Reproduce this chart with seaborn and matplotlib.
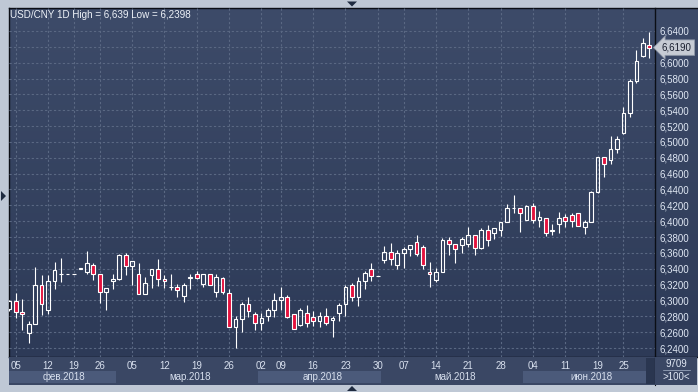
import numpy as np
import matplotlib
matplotlib.use("Agg")
import matplotlib.pyplot as plt
import matplotlib.transforms as mtransforms
from matplotlib.patches import Polygon, Rectangle
from matplotlib.colors import LinearSegmentedColormap
from matplotlib.ticker import FuncFormatter
import seaborn as sns

# daily USD/CNY candles, 2 Feb - 29 Jun 2018
opens = [6.2890, 6.2987, 6.2859, 6.2586, 6.2701, 6.3200, 6.2880, 6.3251, 6.3332, 6.3340,
         6.3340, 6.3391, 6.3353, 6.3443, 6.3328, 6.3106, 6.3251, 6.3276, 6.3570, 6.3430,
         6.3340, 6.3085, 6.3315, 6.3391, 6.3276, 6.3172, 6.3174, 6.3059, 6.3287, 6.3340,
         6.3213, 6.3328, 6.3110, 6.3289, 6.3098, 6.2659, 6.2769, 6.2950, 6.2823, 6.2718,
         6.2806, 6.2878, 6.3000, 6.3038, 6.2823, 6.2693, 6.2836, 6.2794, 6.2747, 6.2798,
         6.2756, 6.2836, 6.2950, 6.3189, 6.3038, 6.3240, 6.3392, 6.3303, 6.3505, 6.3606,
         6.3442, 6.3594, 6.3644, 6.3733, 6.3669, 6.3354, 6.3261, 6.3354, 6.3758, 6.3707,
         6.3695, 6.3707, 6.3821, 6.3657, 6.3884, 6.3846, 6.3884, 6.3985, 6.4164, 6.4162,
         6.4011, 6.4187, 6.4011, 6.4036, 6.3882, 6.3960, 6.4048, 6.4074, 6.4099, 6.3922,
         6.3985, 6.4371, 6.4809, 6.4771, 6.4905, 6.5108, 6.5360, 6.5764, 6.6080, 6.6219]
highs = [6.3010, 6.3093, 6.3021, 6.2744, 6.3417, 6.3319, 6.3319, 6.3481, 6.3532, 6.3340,
         6.3340, 6.3404, 6.3622, 6.3468, 6.3328, 6.3161, 6.3340, 6.3583, 6.3596, 6.3494,
         6.3468, 6.3302, 6.3391, 6.3519, 6.3315, 6.3328, 6.3213, 6.3225, 6.3328, 6.3366,
         6.3340, 6.3340, 6.3340, 6.3302, 6.3149, 6.2810, 6.2975, 6.3050, 6.2849, 6.2836,
         6.2903, 6.3093, 6.3168, 6.3063, 6.2823, 6.2899, 6.2937, 6.2861, 6.2849, 6.2899,
         6.2798, 6.2962, 6.3189, 6.3215, 6.3291, 6.3366, 6.3467, 6.3303, 6.3682, 6.3720,
         6.3636, 6.3669, 6.3695, 6.3821, 6.3695, 6.3488, 6.3404, 6.3783, 6.3796, 6.3707,
         6.3796, 6.3922, 6.3821, 6.3909, 6.3947, 6.3909, 6.3985, 6.4213, 6.4326, 6.4162,
         6.4200, 6.4225, 6.4124, 6.4036, 6.3960, 6.4111, 6.4086, 6.4099, 6.4099, 6.4010,
         6.4377, 6.4809, 6.4809, 6.5074, 6.5074, 6.5436, 6.5790, 6.6156, 6.6307, 6.6390]
lows = [6.2870, 6.2774, 6.2625, 6.2467, 6.2701, 6.2821, 6.2829, 6.3149, 6.3234, 6.3340,
        6.3340, 6.3391, 6.3340, 6.3264, 6.2965, 6.2885, 6.3144, 6.3264, 6.3323, 6.3196,
        6.3085, 6.3085, 6.3161, 6.3187, 6.3157, 6.3127, 6.3046, 6.2978, 6.3144, 6.3276,
        6.3174, 6.3200, 6.3042, 6.3085, 6.2659, 6.2398, 6.2600, 6.2794, 6.2625, 6.2625,
        6.2739, 6.2794, 6.2886, 6.2781, 6.2646, 6.2676, 6.2667, 6.2684, 6.2667, 6.2693,
        6.2541, 6.2743, 6.2802, 6.2996, 6.2933, 6.3147, 6.3248, 6.3303, 6.3467, 6.3442,
        6.3392, 6.3404, 6.3556, 6.3556, 6.3392, 6.3173, 6.3236, 6.3354, 6.3568, 6.3476,
        6.3602, 6.3669, 6.3568, 6.3644, 6.3682, 6.3771, 6.3808, 6.3985, 6.4099, 6.3862,
        6.4011, 6.3973, 6.3922, 6.3808, 6.3821, 6.3846, 6.3922, 6.3922, 6.3935, 6.3834,
        6.3985, 6.4350, 6.4560, 6.4716, 6.4855, 6.5095, 6.5318, 6.5739, 6.6067, 6.6055]
closes = [6.2987, 6.2859, 6.2833, 6.2701, 6.3200, 6.2957, 6.3251, 6.3379, 6.3338, 6.3340,
          6.3340, 6.3404, 6.3468, 6.3328, 6.3106, 6.3161, 6.3276, 6.3570, 6.3430, 6.3494,
          6.3085, 6.3225, 6.3391, 6.3276, 6.3251, 6.3176, 6.3136, 6.3200, 6.3291, 6.3289,
          6.3328, 6.3200, 6.3302, 6.3110, 6.2659, 6.2765, 6.2950, 6.2870, 6.2718, 6.2785,
          6.2878, 6.3000, 6.3038, 6.2794, 6.2646, 6.2874, 6.2722, 6.2747, 6.2798, 6.2722,
          6.2773, 6.2937, 6.3164, 6.3038, 6.3240, 6.3341, 6.3303, 6.3303, 6.3606, 6.3518,
          6.3594, 6.3644, 6.3695, 6.3581, 6.3442, 6.3328, 6.3354, 6.3758, 6.3707, 6.3644,
          6.3771, 6.3821, 6.3657, 6.3884, 6.3758, 6.3909, 6.3985, 6.4162, 6.4168, 6.4099,
          6.4187, 6.4011, 6.4048, 6.3846, 6.3886, 6.4036, 6.3998, 6.3998, 6.3935, 6.3985,
          6.4364, 6.4809, 6.4716, 6.4905, 6.5036, 6.5360, 6.5764, 6.6017, 6.6244, 6.6190]

tick_pos = [1, 6, 10, 14, 19, 24, 29, 34, 39, 42, 47, 52, 57, 61, 66, 71, 76, 81, 86, 91, 95]
tick_lbl = ['05', '12', '19', '26', '05', '12', '19', '26', '02', '09', '16',
            '23', '30', '07', '14', '21', '28', '04', '11', '19', '25']
month_lbl = ['фев.2018', 'мар.2018', 'апр.2018', 'май.2018', 'июн.2018']
month_first = [0, 17, 39, 58, 80]
month_last = [16, 38, 57, 79, 99]

title = 'USD/CNY 1D High = 6,639 Low = 6,2398'
volume_txt = '9709'
zoom_txt = '>100<'

sns.set_style('dark')
plt.rcParams['font.family'] = ['Liberation Sans', 'DejaVu Sans']

W, H = 698, 392
fig = plt.figure(figsize=(W / 100, H / 100), dpi=100, facecolor='#bfc8d5')


def fx(px):
    return px / W


def fy(py):
    return 1 - py / H


L, R, T, B, S = 8.5, 655, 8.3, 357.3, 385

# gradient background behind plot and price scale
bg = fig.add_axes([fx(L), fy(B), fx(697) - fx(L), fy(T) - fy(B)])
cmap = LinearSegmentedColormap.from_list('bg', ['#3d4b69', '#2d3a57'])
bg.imshow(np.linspace(0, 1, 256).reshape(-1, 1), aspect='auto', cmap=cmap,
          extent=[0, 1, 0, 1])
bg.set_xticks([])
bg.set_yticks([])
for s in bg.spines.values():
    s.set_color('#0b0e15')
    s.set_linewidth(1)
bg.spines['right'].set_visible(False)

ax = fig.add_axes([fx(L), fy(B), fx(R) - fx(L), fy(T) - fy(B)], facecolor='none')

o = np.array(opens)
h = np.array(highs)
lo = np.array(lows)
c = np.array(closes)
x = np.arange(len(o))
top = np.maximum(o, c)
bot = np.minimum(o, c)
up = c >= o

ax.vlines(x, top, h, color='white', lw=0.8, zorder=3)
ax.vlines(x, lo, bot, color='white', lw=0.8, zorder=3)
ax.bar(x[up], (top - bot)[up], bottom=bot[up], width=0.58, facecolor='none',
       edgecolor='white', linewidth=0.8, zorder=4)
ax.bar(x[~up], (top - bot)[~up], bottom=bot[~up], width=0.58, facecolor='#e4123e',
       edgecolor='white', linewidth=0.8, zorder=4)

last = closes[-1]


def price_fmt(v, p):
    # the label under the current price tag is covered in the original
    if abs(v - last) < 0.012:
        return ''
    return f'{v:.4f}'.replace('.', ',')


ax.set_xlim(-0.12, 99.88)
ax.set_ylim(6.2283, 6.6686)
ax.yaxis.tick_right()
ax.set_yticks(np.round(np.arange(6.24, 6.641, 0.02), 2))
ax.yaxis.set_major_formatter(FuncFormatter(price_fmt))
ax.tick_params(axis='y', length=0, pad=3, labelsize=7, labelcolor='#dfe7f3', right=False)
ax.set_xticks(tick_pos)
ax.tick_params(axis='x', length=0, labelbottom=False, bottom=False)
ax.grid(True, color='#5a6883', linestyle=(0, (2, 2)), linewidth=0.8)
ax.set_axisbelow(True)
for s in ax.spines.values():
    s.set_visible(False)
ax.spines['right'].set_visible(True)
ax.spines['right'].set_color('#0b0e15')
ax.spines['right'].set_linewidth(1)

# date strip
ax_s = fig.add_axes([fx(L), fy(S), fx(R) - fx(L), fy(B) - fy(S)], facecolor='#3a4764')
ax_s.set_xlim(ax.get_xlim())
ax_s.set_ylim(0, 1)
ax_s.set_xticks([])
ax_s.set_yticks([])
for s in ax_s.spines.values():
    s.set_visible(False)
ax_s.spines['right'].set_visible(True)
ax_s.spines['right'].set_color('#0b0e15')
for k, (a, b_, name) in enumerate(zip(month_first, month_last, month_lbl)):
    if k % 2 == 0:
        ax_s.axvspan(a - 0.5, b_ + 0.5, ymin=0.07, ymax=0.5, color='#4b5a7a', lw=0)
    ax_s.text((a + b_) / 2 + 0.5, 0.29, name, ha='center', va='center',
              fontsize=7, color='#d8e0ee')
for p, t in zip(tick_pos, tick_lbl):
    ax_s.text(p, 0.70, t, ha='center', va='center', fontsize=7, color='#d8e0ee')
ax_s.add_patch(Rectangle((0.9856, 0.05), 0.0144, 0.93, transform=ax_s.transAxes,
                         color='#2a3650', lw=0))

# bottom right box
ax_b = fig.add_axes([fx(R), fy(S), fx(697) - fx(R), fy(B) - fy(S)], facecolor='#3a4764')
ax_b.set_xlim(0, 1)
ax_b.set_ylim(0, 1)
ax_b.set_xticks([])
ax_b.set_yticks([])
for s in ax_b.spines.values():
    s.set_visible(False)
ax_b.text(0.5, 0.76, volume_txt, ha='center', va='center', fontsize=7, color='#dfe7f3')
ax_b.text(0.5, 0.30, zoom_txt, ha='center', va='center', fontsize=7, color='#dfe7f3')
ax_b.plot([0.19, 0.83], [0.54, 0.54], color='#8a97ae', lw=0.7)

# current price tag
tr = mtransforms.blended_transform_factory(fig.transFigure, ax.transData)
fig.text(fx(662), last, f'{last:.4f}'.replace('.', ','), transform=tr,
         ha='left', va='center', fontsize=7, color='#1a2030', zorder=10,
         bbox=dict(boxstyle='larrow,pad=0.28', fc='#c6cbd4', ec='#8f98a8', lw=0.6))

fig.text(fx(10), fy(15), title, ha='left', va='center', fontsize=7.1, color='#eef2f8')

# little arrows of the frame
tri = '#1f2b40'
fig.add_artist(Polygon([[fx(347), fy(1.5)], [fx(357), fy(1.5)], [fx(352), fy(6.5)]],
                       closed=True, transform=fig.transFigure, fc=tri, ec='none'))
fig.add_artist(Polygon([[fx(347), fy(391)], [fx(357), fy(391)], [fx(352), fy(386)]],
                       closed=True, transform=fig.transFigure, fc=tri, ec='none'))
fig.add_artist(Polygon([[fx(1), fy(191)], [fx(1), fy(201)], [fx(6), fy(196)]],
                       closed=True, transform=fig.transFigure, fc=tri, ec='none'))

fig.savefig('out.png', dpi=100, facecolor=fig.get_facecolor())
